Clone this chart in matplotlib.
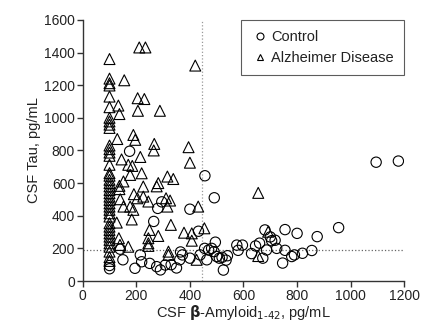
import numpy as np
import matplotlib
matplotlib.use('Agg')
import matplotlib.pyplot as plt
from matplotlib.lines import Line2D

plt.rcParams['font.family'] = ['Liberation Sans', 'DejaVu Sans']

# ---------------------------
# Data
# ---------------------------
control_x = [100, 100, 140, 150, 195, 215, 220, 250, 276, 290, 308, 175,
             265, 280, 295, 330, 350, 365, 372, 362, 400, 400, 432, 438,
             455, 456, 463, 470, 481, 490, 491, 495, 500, 510, 520, 525,
             535, 540, 575, 580, 596, 630, 645, 660, 672, 686, 680, 700,
             705, 718, 724, 746, 755, 755, 780, 790, 800, 820, 855, 875,
             955, 1095, 1178]
control_y = [95, 75, 195, 130, 78, 160, 118, 108, 88, 68, 98, 795,
             365, 445, 485, 100, 80, 178, 160, 130, 140, 440, 305, 160,
             200, 645, 130, 190, 200, 180, 510, 238, 150, 140, 145, 67,
             128, 155, 220, 188, 220, 168, 215, 232, 140, 190, 313, 270,
             247, 250, 200, 110, 315, 188, 150, 160, 292, 170, 187, 272,
             327, 728, 735]

ad_col_y = [1360, 1240, 1212, 1198, 1130, 1065, 1000, 978, 958, 938, 830,
            808, 787, 767, 712, 661, 645, 620, 600, 580, 558, 538, 517, 497,
            476, 456, 436, 415, 395, 354, 333, 313, 292, 272, 252, 231, 210,
            180, 146, 123]
ad_other_x = [211, 234, 420, 155, 205, 230, 133, 206, 288, 137, 129, 189,
              196, 267, 395, 265, 400, 215, 145, 170, 185, 220, 177, 152,
              137, 137, 226, 316, 338, 282, 276, 191, 204, 140, 245, 226,
              152, 177, 189, 183, 311, 326, 316, 431, 329, 127, 249, 282,
              245, 245, 245, 135, 139, 170, 378, 407, 407, 454, 320, 320,
              425, 655, 692, 655]
ad_other_y = [1431, 1431, 1320, 1230, 1120, 1115, 1075, 1043, 1043, 1023,
              870, 895, 865, 840, 820, 800, 725, 760, 745, 712, 705, 660,
              650, 610, 583, 563, 579, 640, 625, 600, 580, 532, 507, 501,
              487, 517, 456, 456, 436, 377, 507, 493, 456, 456, 344, 358,
              313, 276, 262, 231, 215, 262, 221, 210, 296, 292, 247, 323,
              180, 160, 130, 540, 302, 153]

ad_x = [100] * len(ad_col_y) + ad_other_x
ad_y = ad_col_y + ad_other_y

tau_cut = 192
abeta_cut = 445

# ---------------------------
# Plot
# ---------------------------
fig = plt.figure(figsize=(4.22, 3.26), dpi=100)
ax = fig.add_axes([0.196, 0.138, 0.762, 0.801])

ax.plot([abeta_cut, abeta_cut], [0, 1600], linestyle=':', color='#999999', lw=0.9, zorder=1)
ax.plot([0, 1200], [tau_cut, tau_cut], linestyle=':', color='#666666', lw=0.9, zorder=1)

ax.scatter(control_x, control_y, s=55, marker='o', facecolors='none',
           edgecolors='black', linewidths=0.8, zorder=3)
ax.scatter(ad_x, ad_y, s=62, marker='^', facecolors='none',
           edgecolors='black', linewidths=0.8, zorder=3)

ax.set_xlim(0, 1200)
ax.set_ylim(0, 1600)
ax.set_xticks(np.arange(0, 1201, 200))
ax.set_yticks(np.arange(0, 1601, 200))
for side in ['top', 'right']:
    ax.spines[side].set_visible(False)
for side in ['left', 'bottom']:
    ax.spines[side].set_color('#333333')
    ax.spines[side].set_linewidth(1.0)
ax.tick_params(direction='out', length=4, width=1.0, color='#333333',
               labelsize=10, pad=1.5, labelcolor='#222222')

ax.set_xlabel(r'CSF $\mathbf{\beta}$-Amyloid$_{1\text{-}42}$, pg/mL', fontsize=10.5,
              labelpad=0, color='#222222')
ax.set_ylabel('CSF Tau, pg/mL', fontsize=10.5, labelpad=2, color='#222222')

handles = [Line2D([], [], marker='o', ls='none', mfc='none', mec='black', ms=5, mew=0.8),
           Line2D([], [], marker='^', ls='none', mfc='none', mec='black', ms=5, mew=0.8)]
leg = ax.legend(handles, ['Control', 'Alzheimer Disease'], loc='upper right',
                bbox_to_anchor=(1.0, 1.0), borderaxespad=0.0, fontsize=10.5,
                frameon=True, fancybox=False, handletextpad=0.2, handlelength=1.2,
                borderpad=0.7, labelspacing=0.45)
leg.get_frame().set_edgecolor('#333333')
leg.get_frame().set_linewidth(0.8)
for t in leg.get_texts():
    t.set_color('#222222')

fig.savefig('out.png', dpi=100)
